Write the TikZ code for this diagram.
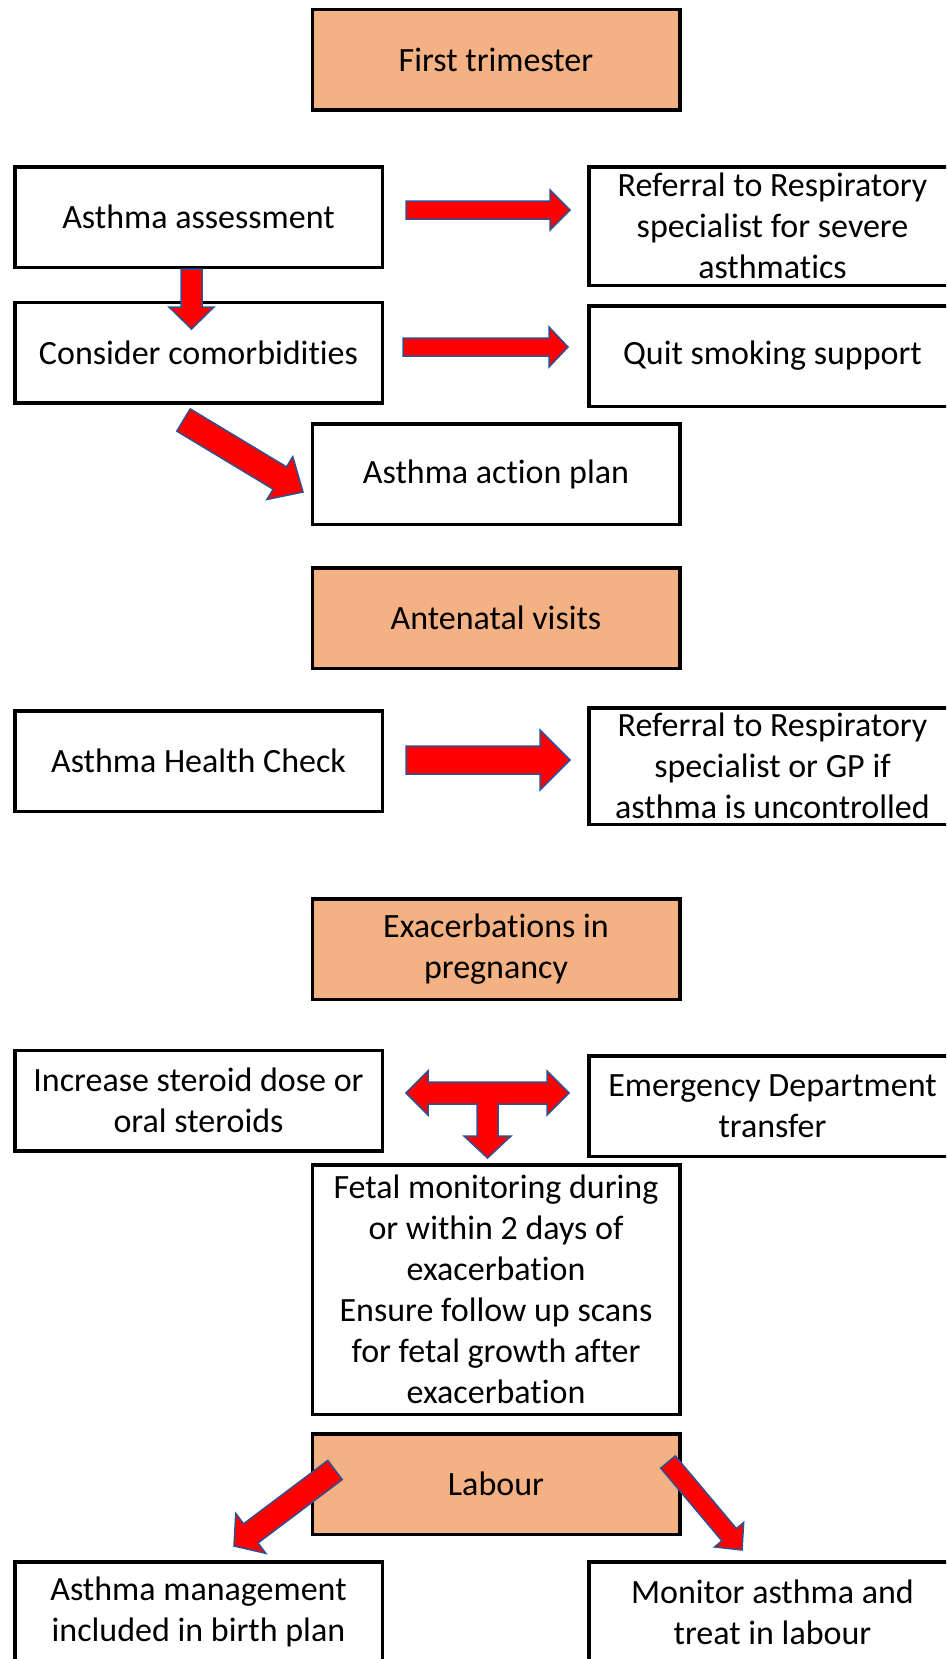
\documentclass[tikz,border=0pt]{standalone}
\usepackage{fontspec}
\setmainfont[Ligatures=CommonOff]{Carlito}
\usetikzlibrary{calc}
\definecolor{peach}{HTML}{F4B183}
\definecolor{arrowedge}{HTML}{2F528F}
\tikzset{
 box/.style={draw=black, line width=3.5pt, fill=white, minimum width=367.5pt, minimum height=100.5pt,
   align=center, inner sep=0pt, font=\fontsize{34}{41}\selectfont},
 stage/.style={box, fill=peach},
 barrow/.style={fill=red, draw=arrowedge, line width=1.5pt, line join=miter}
}
% block arrow: start, tip, shaft half width, head half width, head length
\newcommand{\blockarrow}[5]{%
 \coordinate (bh) at ($(#2)!#5!(#1)$);
 \filldraw[barrow] ($(#1)!#3!90:(#2)$) -- ($(bh)!#3!-90:(#1)$) -- ($(bh)!#4!-90:(#1)$) -- (#2)
   -- ($(bh)!#4!90:(#1)$) -- ($(bh)!#3!90:(#1)$) -- ($(#1)!#3!-90:(#2)$) -- cycle;}
\begin{document}
\begin{tikzpicture}[x=1pt,y=-1pt]
\clip (0,0) rectangle (946,1659);
\fill[white] (0,0) rectangle (946,1659);
% first trimester
\node[stage] (first) at (496,60) {First trimester};
\node[box] (assess) at (198.5,217) {Asthma assessment};
\node[box, minimum height=118.5pt] (refer1) at (772.5,226) {Referral to Respiratory\\specialist for severe\\asthmatics};
\node[box] (comorb) at (198.5,352.5) {Consider comorbidities};
\node[box] (quit) at (772.5,356) {Quit smoking support};
\node[box] (plan) at (496,474) {Asthma action plan};
% antenatal
\node[stage] (antenatal) at (496,618) {Antenatal visits};
\node[box] (check) at (198.5,761) {Asthma Health Check};
\node[box, minimum height=116.5pt] (refer2) at (772.5,766) {Referral to Respiratory\\specialist or GP if\\asthma is uncontrolled};
% exacerbations
\node[stage] (exac) at (496,949) {Exacerbations in\\pregnancy};
\node[box] (steroid) at (198.5,1100.5) {Increase steroid dose or\\oral steroids};
\node[box] (ed) at (772.5,1106) {Emergency Department\\transfer};
\node[box, minimum height=249.5pt] (fetal) at (496,1289.5) {Fetal monitoring during\\or within 2 days of\\exacerbation\\Ensure follow up scans\\for fetal growth after\\exacerbation};
% labour
\node[stage] (labour) at (496,1484) {Labour};
\node[box] (mgmt) at (198.5,1612) {Asthma management\\included in birth plan};
\node[box] (monitor) at (772.5,1612) {Monitor asthma and\\treat in labour};
% arrows
\coordinate (a1s) at (406,210); \coordinate (a1t) at (570,210);
\coordinate (a2s) at (403,347); \coordinate (a2t) at (568,347);
\coordinate (d1s) at (191.5,269); \coordinate (d1t) at (191.5,329);
\coordinate (g1s) at (183.5,420); \coordinate (g1t) at (303,492);
\coordinate (a3s) at (406,760); \coordinate (a3t) at (570,760);
\coordinate (l1s) at (335,1470); \coordinate (l1t) at (234,1546);
\coordinate (l2s) at (668,1462); \coordinate (l2t) at (742,1550);
\blockarrow{a1s}{a1t}{9pt}{20pt}{20pt}
\blockarrow{a2s}{a2t}{9pt}{20pt}{19pt}
\blockarrow{d1s}{d1t}{10.5pt}{22.5pt}{22pt}
\blockarrow{g1s}{g1t}{13pt}{25pt}{27pt}
\blockarrow{a3s}{a3t}{14pt}{30pt}{30pt}
\blockarrow{l1s}{l1t}{12pt}{25pt}{21pt}
\blockarrow{l2s}{l2t}{9.5pt}{19pt}{20pt}
% T arrow between steroid, ed and fetal
\coordinate (tee) at (487.5,1093);
\filldraw[barrow] ([xshift=-81.5]tee) -- ++(22,-22) -- ++(0,11) -- ++(119,0) -- ++(0,-11) -- ++(22,22)
  -- ++(-22,22) -- ++(0,-11) -- ++(-49,0) -- ++(0,32) -- ++(13,0) -- ++(-23.5,22) -- ++(-23.5,-22)
  -- ++(13,0) -- ++(0,-32) -- ++(-49,0) -- ++(0,11) -- cycle;
\end{tikzpicture}
\end{document}
